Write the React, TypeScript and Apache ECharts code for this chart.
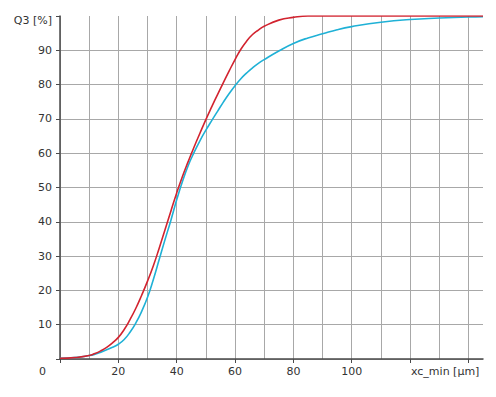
import React, { useEffect, useRef } from "react";
import * as echarts from "echarts";

const xValues = [0, 5, 10, 12, 14, 16, 18, 20, 22, 24, 26, 28, 30, 32, 34, 36, 38, 40, 42, 44, 46, 48, 50, 52, 54, 56, 58, 60, 62, 64, 66, 68, 70, 75, 80, 85, 90, 95, 100, 110, 120, 130, 140, 145];
const redQ3 = [0.2, 0.4, 1.0, 1.6, 2.4, 3.4, 4.7, 6.3, 8.6, 11.5, 14.8, 18.6, 22.7, 27.2, 32.3, 37.7, 43.1, 48.4, 53.3, 57.7, 61.9, 65.9, 69.8, 73.5, 77.1, 80.6, 84.0, 87.3, 90.3, 92.7, 94.6, 95.9, 97.0, 98.8, 99.6, 100, 100, 100, 100, 100, 100, 100, 100, 100];
const blueQ3 = [0.2, 0.4, 1.0, 1.4, 2.0, 2.7, 3.4, 4.3, 5.7, 7.8, 10.5, 13.9, 18.0, 23.2, 29.0, 34.8, 40.4, 46.4, 51.8, 56.5, 60.3, 63.7, 66.7, 69.5, 72.2, 74.9, 77.4, 79.7, 81.7, 83.4, 84.9, 86.2, 87.3, 89.8, 92.0, 93.6, 94.8, 96.0, 96.9, 98.2, 99.0, 99.4, 99.7, 99.8];
const xLabelTicks = [20, 40, 60, 80, 100];
const xAxisName = "xc_min [µm]";
const yAxisName = "Q3 [%]";

const FONT = "DejaVu Sans";
const TEXT = "#333333";
const GRIDC = "#a8a8a8";
const AXISC = "#4a4a4a";

export default function App() {
  const ref = useRef<HTMLDivElement>(null);
  useEffect(() => {
    if (!ref.current) return;
    const chart = echarts.init(ref.current, null, { renderer: "svg" });
    const red = xValues.map((x, i) => [x, redQ3[i]]);
    const blue = xValues.map((x, i) => [x, blueQ3[i]]);
    chart.setOption({
      animation: false,
      grid: { left: 52, right: 5, top: 8, bottom: 38, containLabel: false },
      xAxis: [
        {
          type: "value",
          min: 0,
          max: 145,
          interval: 10,
          position: "bottom",
          axisLine: { show: true, lineStyle: { color: AXISC, width: 1.5 } },
          axisTick: { show: false },
          axisLabel: { show: false },
          splitLine: { show: true, showMaxLine: false, lineStyle: { color: GRIDC, width: 1 } },
        },
        {
          type: "value",
          min: 0,
          max: 145,
          interval: 20,
          position: "bottom",
          axisLine: { show: false },
          axisTick: { show: true, length: 4, inside: false, lineStyle: { color: AXISC, width: 1 } },
          axisLabel: {
            show: true,
            margin: 7,
            color: TEXT,
            fontFamily: FONT,
            fontSize: 11,
            showMaxLabel: false,
            formatter: (v: number) => (xLabelTicks.indexOf(v) >= 0 ? String(v) : ""),
          },
          splitLine: { show: false },
        },
      ],
      yAxis: {
        type: "value",
        min: 0,
        max: 100,
        interval: 10,
        name: yAxisName,
        nameLocation: "end",
        nameGap: -4,
        nameTextStyle: { color: TEXT, fontFamily: FONT, fontSize: 11, align: "right", verticalAlign: "middle", padding: [0, 8, 0, 0] },
        axisLine: { show: true, lineStyle: { color: AXISC, width: 1.5 } },
        axisTick: { show: true, length: 4, lineStyle: { color: AXISC, width: 1 } },
        axisLabel: {
          margin: 8,
          color: TEXT,
          fontFamily: FONT,
          fontSize: 11,
          formatter: (v: number) => (v === 0 || v === 100 ? "" : String(v)),
        },
        splitLine: { show: true, showMaxLine: false, lineStyle: { color: GRIDC, width: 1 } },
      },
      graphic: [
        {
          type: "text",
          left: 31,
          top: 358,
          style: { text: "0", fill: TEXT, font: `11px "${FONT}"` },
        },
        {
          type: "text",
          left: 403,
          top: 358,
          style: { text: xAxisName, fill: TEXT, font: `11px "${FONT}"` },
        },
      ],
      series: [
        {
          type: "line",
          xAxisIndex: 0,
          data: blue,
          smooth: 0.5,
          showSymbol: false,
          lineStyle: { color: "#1fb1d6", width: 1.6 },
          z: 3,
        },
        {
          type: "line",
          xAxisIndex: 0,
          data: red,
          smooth: 0.5,
          showSymbol: false,
          lineStyle: { color: "#d2232f", width: 1.6 },
          z: 4,
        },
      ],
    });
    return () => chart.dispose();
  }, []);
  return <div ref={ref} style={{ width: 480, height: 389 }} />;
}
